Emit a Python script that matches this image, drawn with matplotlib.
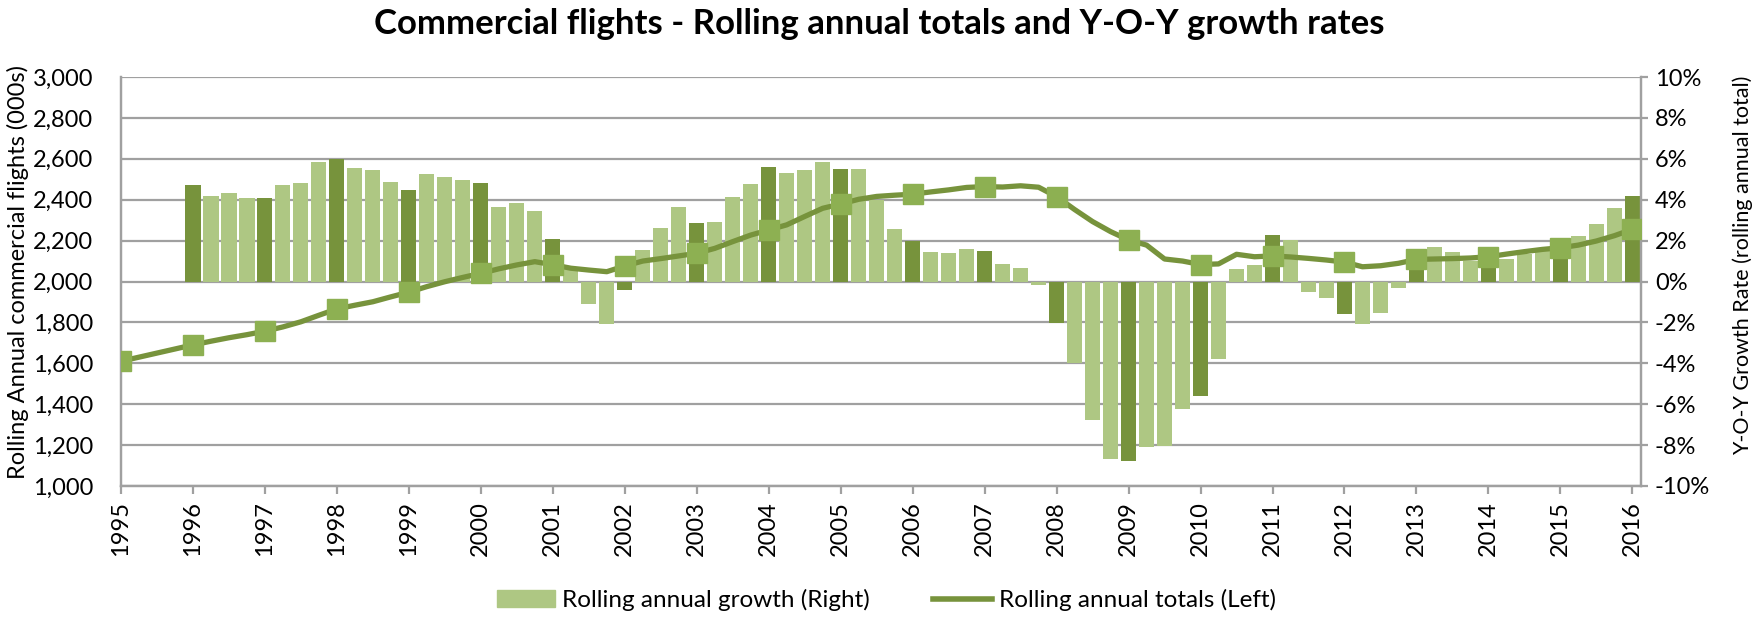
import matplotlib
matplotlib.use("Agg")
import matplotlib.pyplot as plt
import numpy as np
from matplotlib.patches import Patch
from matplotlib.lines import Line2D
from matplotlib.ticker import FuncFormatter

plt.rcParams['font.family'] = ['Lato', 'DejaVu Sans']

# rolling annual totals (000s), quarterly 1995 Q1 .. 2016 Q1
totals = [1610, 1630, 1650, 1670,
          1690, 1708, 1725, 1740,
          1757, 1778, 1803, 1835,
          1866, 1884, 1901, 1925,
          1948, 1975, 1999, 2020,
          2040, 2062, 2081, 2097,
          2082, 2065, 2056, 2048,
          2076, 2100, 2112, 2125,
          2138, 2162, 2195, 2227,
          2252, 2277, 2318, 2358,
          2379, 2402, 2416, 2422,
          2427, 2438, 2448, 2460,
          2464, 2462, 2468, 2461,
          2415, 2352, 2293, 2244,
          2203, 2178, 2110, 2100,
          2083, 2086, 2133, 2121,
          2125, 2120, 2113, 2105,
          2095, 2072, 2077, 2089,
          2108, 2110, 2112, 2115,
          2121, 2134, 2146, 2157,
          2165, 2178, 2198, 2224,
          2255]

# Y-O-Y growth (%), quarterly 1996 Q1 .. 2016 Q1
growth = [4.70, 4.20, 4.34, 4.08,
          4.10, 4.73, 4.80, 5.84,
          5.98, 5.55, 5.44, 4.85,
          4.47, 5.24, 5.11, 4.95,
          4.82, 3.64, 3.85, 3.43,
          2.06, 0.60, -1.10, -2.06,
          -0.42, 1.52, 2.60, 3.64,
          2.87, 2.89, 4.15, 4.77,
          5.60, 5.31, 5.44, 5.86,
          5.50, 5.49, 3.98, 2.58,
          1.98, 1.42, 1.37, 1.58,
          1.47, 0.88, 0.64, -0.16,
          -2.01, -4.00, -6.76, -8.67,
          -8.78, -8.10, -8.03, -6.22,
          -5.60, -3.77, 0.60, 0.80,
          2.27, 2.02, -0.51, -0.83,
          -1.57, -2.06, -1.52, -0.34,
          1.00, 1.67, 1.42, 1.01,
          0.69, 1.08, 1.34, 1.50,
          1.60, 2.24, 2.81, 3.61,
          4.20]

years = list(range(1995, 2017))

x_tot = 1995 + np.arange(len(totals)) * 0.25
x_gr = 1996 + np.arange(len(growth)) * 0.25

dark = '#77933C'
light = '#AEC783'
marker_c = '#8DB052'
grid_c = '#A0A0A0'

fig = plt.figure(figsize=(17.55, 6.19), dpi=100)
ax = fig.add_axes([121/1755, 1-486/619, (1641-121)/1755, (486-77)/619])
ax2 = ax.twinx()
ax.set_zorder(ax2.get_zorder() + 1)
ax.patch.set_visible(False)

# bars on the right axis
cols = [dark if i % 4 == 0 else light for i in range(len(growth))]
ax2.bar(x_gr, growth, width=0.21, color=cols, zorder=2)
ax2.set_ylim(-10, 10)
ax2.set_yticks(np.arange(-10, 11, 2))
ax2.yaxis.set_major_formatter(FuncFormatter(lambda v, p: '%d%%' % v))
ax2.grid(axis='y', color=grid_c, lw=1.6, zorder=0)
ax2.set_axisbelow(True)

# line on the left axis
ax.plot(x_tot, totals, color=dark, lw=3.8, solid_capstyle='round', zorder=3)
idx = [int((y - 1995) * 4) for y in years]
ax.plot(x_tot[idx], np.array(totals)[idx], ls='none', marker='s', ms=14,
        mfc=marker_c, mec=marker_c, zorder=4)
ax.set_ylim(1000, 3000)
ax.set_yticks(np.arange(1000, 3001, 200))
ax.yaxis.set_major_formatter(FuncFormatter(lambda v, p: '{:,.0f}'.format(v)))
ax.set_xlim(1995, 2016.12)
ax.set_xticks(years)
ax.set_xticklabels([str(y) for y in years], rotation=90)

for a in (ax, ax2):
    a.spines['top'].set_visible(False)
    for s in ('left', 'right', 'bottom'):
        a.spines[s].set_color(grid_c)
        a.spines[s].set_linewidth(1.6)

ax.tick_params(axis='y', length=0, pad=20, labelsize=17)
ax.tick_params(axis='x', length=6, width=1.6, color=grid_c, pad=5, labelsize=17)
ax2.tick_params(axis='y', length=5, width=1.6, color=grid_c, pad=5, labelsize=17)

fig.text(0.0105, 0.561, 'Rolling Annual commercial flights (000s)', rotation=90,
         ha='center', va='center', fontsize=17)
fig.text(0.993, 0.572, 'Y-O-Y Growth Rate (rolling annual total)', rotation=90,
         ha='center', va='center', fontsize=15.5)

fig.text(0.501, 0.962, 'Commercial flights - Rolling annual totals and Y-O-Y growth rates',
         ha='center', va='center', fontsize=25, fontweight='bold')

handles = [Patch(color=light), Line2D([0], [0], color=dark, lw=4)]
fig.legend(handles, ['Rolling annual growth (Right)', 'Rolling annual totals (Left)'],
           loc='center', bbox_to_anchor=(0.505, 0.03), ncol=2, frameon=False,
           fontsize=17.5, handlelength=2.4, handletextpad=0.3, columnspacing=2.6)

fig.savefig('out.png', dpi=100)
